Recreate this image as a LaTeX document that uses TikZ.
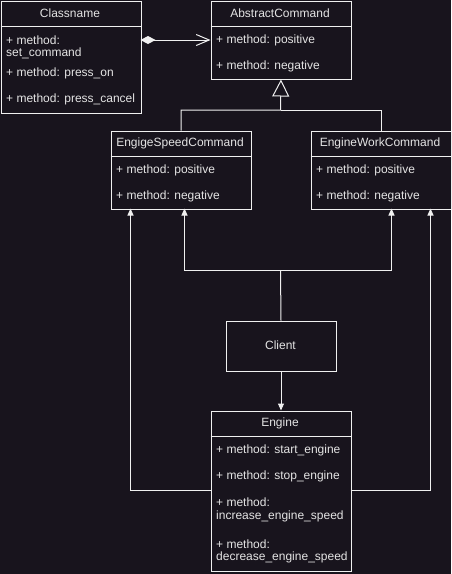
\documentclass[tikz,border=0pt]{standalone}
\usepackage{fontspec}
\setmainfont{Liberation Sans}
\usetikzlibrary{arrows.meta}
\definecolor{bg}{HTML}{18141D}
\definecolor{ln}{HTML}{F0F0F0}
\definecolor{tx}{HTML}{E4E4E4}
\begin{document}
\begin{tikzpicture}[x=1pt,y=-1pt,
  box/.style={draw=ln,line width=1pt,anchor=north west,inner sep=0pt},
  hdr/.style={text=tx,font=\fontsize{12}{14}\selectfont,anchor=center,inner sep=0pt},
  item/.style={text=tx,font=\fontsize{12}{14}\selectfont,anchor=west,inner sep=0pt},
  conn/.style={draw=ln,line width=1pt},
  tip/.style={-{Triangle[length=7pt,width=6pt,fill=ln]}}]
\useasboundingbox[fill=bg] (0,0) rectangle (451,574);
% Classname
\node[box,minimum width=140pt,minimum height=112pt] (cls) at (0.5,0.5) {};
\draw[conn] (0.5,26) -- (140.5,26);
\node[hdr] (clsh) at (70,13) {Classname};
\node[item] (c1) at (6,40) {+ method:};
\node[item] (c1b) at (6,53) {set\_command};
\node[item] (c2) at (6,73) {+ method: press\_on};
\node[item] (c3) at (6,99) {+ method: press\_cancel};
% AbstractCommand
\node[box,minimum width=140pt,minimum height=78pt] (abs) at (210.5,0.5) {};
\draw[conn] (210.5,26) -- (350.5,26);
\node[hdr] (absh) at (280,13) {AbstractCommand};
\node[item] (a1) at (216,40) {+ method: positive};
\node[item] (a2) at (216,66) {+ method: negative};
% EngigeSpeedCommand
\node[box,minimum width=140pt,minimum height=78pt] (esc) at (110.5,130.5) {};
\draw[conn] (110.5,156) -- (250.5,156);
\node[hdr] (esch) at (180,143) {EngigeSpeedCommand};
\node[item] (e1) at (116,170) {+ method: positive};
\node[item] (e2) at (116,196) {+ method: negative};
% EngineWorkCommand
\node[box,minimum width=140pt,minimum height=78pt] (ewc) at (310.5,130.5) {};
\draw[conn] (310.5,156) -- (450.5,156);
\node[hdr] (ewch) at (380,143) {EngineWorkCommand};
\node[item] (w1) at (316,170) {+ method: positive};
\node[item] (w2) at (316,196) {+ method: negative};
% Client
\node[box,minimum width=110pt,minimum height=50pt] (cli) at (225.5,320.5) {};
\node[hdr] (clih) at (280.5,345) {Client};
% Engine
\node[box,minimum width=140pt,minimum height=160pt] (eng) at (210.5,410.5) {};
\draw[conn] (210.5,436) -- (350.5,436);
\node[hdr] (engh) at (280,423) {Engine};
\node[item] (g1) at (216,450) {+ method: start\_engine};
\node[item] (g2) at (216,476) {+ method: stop\_engine};
\node[item] (g3) at (216,502) {+ method:};
\node[item] (g3b) at (216,516) {increase\_engine\_speed};
\node[item] (g4) at (216,544) {+ method:};
\node[item] (g4b) at (216,557) {decrease\_engine\_speed};
% coordinates
\coordinate (clsA) at (140.5,40);
\coordinate (absA) at (210.5,40);
\coordinate (junc) at (280.5,110);
\coordinate (clitop) at (280.5,270);
\coordinate (escL) at (130.5,208.5);
\coordinate (escR) at (184.5,208.5);
\coordinate (ewcL) at (391.5,208.5);
\coordinate (ewcR) at (430.5,208.5);
\coordinate (engL) at (210.5,490.5);
\coordinate (engR) at (350.5,490.5);
% aggregation
\draw[conn,{Diamond[length=15pt,width=8pt,fill=ln]}-{Straight Barb[length=13pt,width=11pt]}] (clsA) -- (absA);
% inheritance
\draw[conn,-{Triangle[open,length=17pt,width=17pt,fill=bg]}] (esc.north) |- (junc) -- (abs.south);
\draw[conn] (ewc.north) |- (junc);
% client uses
\draw[conn] (cli.north) -- (clitop);
\draw[conn,tip] (clitop) -| (escR);
\draw[conn,tip] (clitop) -| (ewcL);
\draw[conn,tip] (cli.south) -- (eng.north);
% engine
\draw[conn,tip] (engL) -| (escL);
\draw[conn,tip] (engR) -| (ewcR);
\end{tikzpicture}
\end{document}
